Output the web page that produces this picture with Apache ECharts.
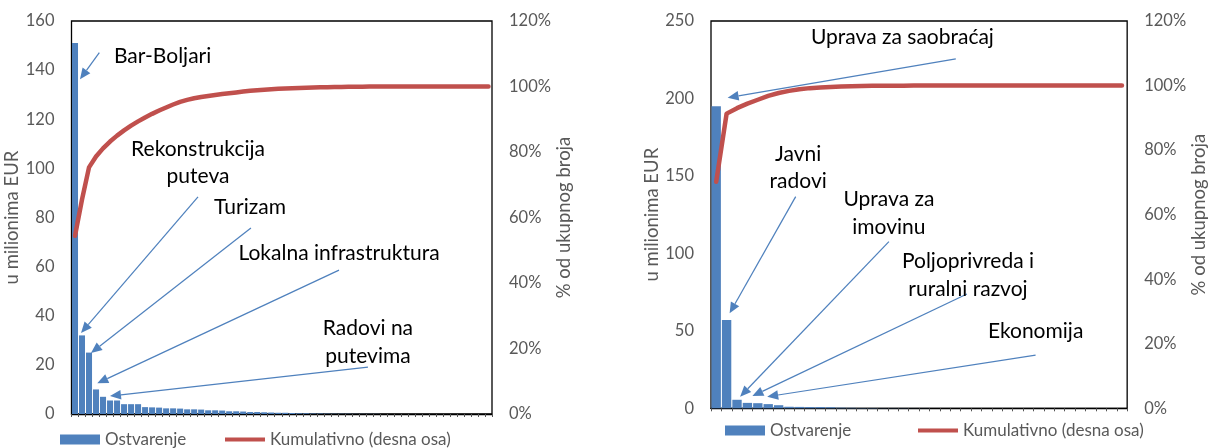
<!DOCTYPE html>
<html>
<head>
<meta charset="utf-8">
<script src="https://cdn.jsdelivr.net/npm/echarts@6/dist/echarts.min.js"></script>
<style>
html,body{margin:0;padding:0;background:#fff;}
#chart{width:1210px;height:448px;}
</style>
</head>
<body>
<div id="chart"></div>
<script>
// ---------- data ----------
const seriesNames = ['Ostvarenje', 'Kumulativno (desna osa)'];

// left chart: realisation per item, in millions of EUR (sorted descending)
const leftValues = [
  151, 32, 25, 10, 7, 5.5, 5.5, 4, 4, 4,
  2.8, 2.7, 2.6, 2.3, 2.3, 2.2, 1.9, 1.9, 1.8, 1.5,
  1.5, 1.4, 1.1, 1.1, 1.0, 0.8, 0.8, 0.7, 0.6, 0.5,
  0.5, 0.4, 0.3, 0.3, 0.2, 0.2, 0.15, 0.1, 0.1, 0.1,
  0.05, 0.05, 0.05, 0.05, 0, 0, 0, 0, 0, 0,
  0, 0, 0, 0, 0, 0, 0, 0, 0, 0
];
// left chart: cumulative share, % (right axis)
const leftCumulative = [
  54.4, 65.5, 75.3, 78.6, 81.1, 83.2, 85.0, 86.6, 88.05, 89.35,
  90.55, 91.65, 92.65, 93.6, 94.5, 95.3, 95.9, 96.4, 96.8, 97.1,
  97.4, 97.7, 97.95, 98.2, 98.45, 98.7, 98.88, 99.04, 99.18, 99.3,
  99.4, 99.49, 99.57, 99.64, 99.7, 99.75, 99.8, 99.84, 99.88, 99.91,
  99.94, 99.96, 99.98, 99.99, 100, 100, 100, 100, 100, 100,
  100, 100, 100, 100, 100, 100, 100, 100, 100, 100
];

// right chart
const rightValues = [
  195, 57, 5.5, 3.5, 3.3, 2.7, 2.0, 1.0, 0.9, 0.8,
  0.8, 0.7, 0.4, 0.3, 0.2, 0.2, 0.1, 0.1, 0.1, 0.05,
  0.05, 0, 0, 0, 0, 0, 0, 0, 0, 0,
  0, 0, 0, 0, 0, 0, 0, 0, 0, 0
];
const rightCumulative = [
  70.2, 91.3, 93, 94.4, 95.6, 96.8, 97.7, 98.35, 98.85, 99.2,
  99.4, 99.58, 99.7, 99.8, 99.86, 99.9, 99.93, 99.95, 99.97, 100,
  100, 100, 100, 100, 100, 100, 100, 100, 100, 100,
  100, 100, 100, 100, 100, 100, 100, 100, 100, 100
];

// categories (items are unlabeled in the original, ranked 1..n)
const leftCategories = leftValues.map((v, i) => String(i + 1));
const rightCategories = rightValues.map((v, i) => String(i + 1));

// tick labels
const leftValueTicks = [0, 20, 40, 60, 80, 100, 120, 140, 160];
const rightValueTicks = [0, 50, 100, 150, 200, 250];
const percentTicks = [0, 20, 40, 60, 80, 100, 120];

// annotation texts
const leftLabels = ['Bar-Boljari', 'Rekonstrukcija\nputeva', 'Turizam', 'Lokalna infrastruktura', 'Radovi na\nputevima'];
const rightLabels = ['Uprava za saobraćaj', 'Javni\nradovi', 'Uprava za\nimovinu', 'Poljoprivreda i\nruralni razvoj', 'Ekonomija'];

// ---------- layout of annotations (in data space: category index, axis value) ----------
const leftAnnotLayout = [
  { at: [12.5, 145.5], from: [3.47, 147.1], to: [0.71, 136.3] },
  { at: [17.55, 102.2], from: [17.55, 88.4], to: [0.86, 33] },
  { at: [24.97, 84.3], from: [25.1, 75.7], to: [2.28, 24.8] },
  { at: [37.67, 65.6], from: [37.67, 58.6], to: [3.18, 12.5] },
  { at: [41.8, 29.3], from: [41.8, 19.1], to: [4.99, 7.3] }
];
const rightAnnotLayout = [
  { at: [17.9, 239.5], from: [23.03, 225.5], to: [1.1, 200.5] },
  { at: [7.88, 155.2], from: [7.64, 136.6], to: [1.29, 61.3] },
  { at: [16.6, 125.8], from: [16.6, 107.6], to: [2.3, 7.5] },
  { at: [24.2, 86], from: [24.1, 73.8], to: [3.48, 7.9] },
  { at: [30.7, 49.5], from: [30.7, 34.4], to: [4.9, 7.5] }
];

// ---------- styles ----------
const FONT = 'Lato, "Open Sans", sans-serif';
const BLUE = '#4F81BD';
const RED = '#C0504D';
const GREY = '#595959';
const linePath = 'path://M0,0 L40,0 L40,4 L0,4 Z';

function ticksAxis(ticks) {
  return { min: ticks[0], max: ticks[ticks.length - 1], interval: ticks[1] - ticks[0] };
}

function valueAxis(gridIndex, ticks, position, name, nameGap, isPct) {
  return Object.assign({
    type: 'value', gridIndex, position,
    name, nameLocation: 'middle', nameRotate: 90, nameGap,
    nameTextStyle: { color: GREY, fontSize: 18.5, fontFamily: FONT },
    axisLine: { show: false }, axisTick: { show: false }, splitLine: { show: false },
    axisLabel: {
      color: GREY, fontSize: 16.5, fontFamily: FONT, margin: 17,
      formatter: isPct ? (v => v + '%') : (v => String(v))
    }
  }, ticksAxis(ticks));
}

function catAxis(gridIndex, cats) {
  return {
    type: 'category', gridIndex, data: cats,
    axisLabel: { show: false },
    axisTick: { show: true, interval: 0, length: 3, lineStyle: { color: '#555' } },
    axisLine: { lineStyle: { color: '#000', width: 1.3 } },
    splitLine: { show: false }
  };
}

function hiddenXAxis(gridIndex, n) {
  return { type: 'value', gridIndex, min: -0.5, max: n - 0.5, show: false };
}

function annotationSeries(labels, layout, xAxisIndex, yAxisIndex) {
  return {
    type: 'custom', xAxisIndex, yAxisIndex, silent: true, z: 6,
    data: layout.map(a => [a.at[0], a.at[1], a.from[0], a.from[1], a.to[0], a.to[1]]),
    encode: { x: [0, 2, 4], y: [1, 3, 5] },
    renderItem(params, api) {
      const t = api.coord([api.value(0), api.value(1)]);
      const p = api.coord([api.value(2), api.value(3)]);
      const q = api.coord([api.value(4), api.value(5)]);
      const ang = Math.atan2(q[1] - p[1], q[0] - p[0]);
      const L = 11, W = 4.8;
      const cx = Math.cos(ang), sy = Math.sin(ang);
      const bx = q[0] - L * cx, by = q[1] - L * sy;
      return {
        type: 'group',
        children: [
          { type: 'line', shape: { x1: p[0], y1: p[1], x2: bx, y2: by },
            style: { stroke: BLUE, lineWidth: 1.25 } },
          { type: 'polygon',
            shape: { points: [[q[0], q[1]], [bx - W * sy, by + W * cx], [bx + W * sy, by - W * cx]] },
            style: { fill: BLUE } },
          { type: 'text', x: t[0], y: t[1],
            style: { text: labels[params.dataIndex], fill: '#000', fontSize: 21, fontFamily: FONT,
              align: 'center', verticalAlign: 'middle', lineHeight: 27.5 } }
        ]
      };
    }
  };
}

function legendItem(left, top, name, isLine) {
  return {
    left, top, padding: 0, itemWidth: 40, itemHeight: 10, itemGap: 0,
    selectedMode: false,
    textStyle: { color: GREY, fontSize: 17, fontFamily: FONT },
    data: [isLine
      ? { name, icon: linePath, itemStyle: { color: RED, borderWidth: 0 } }
      : { name, icon: 'rect', itemStyle: { color: BLUE, borderWidth: 0 } }]
  };
}

const option = {
  animation: false,
  textStyle: { fontFamily: FONT },
  grid: [
    { left: 71.5, top: 21, width: 420.5, height: 393, show: true, borderColor: '#000', borderWidth: 1.3 },
    { left: 711, top: 21, width: 425, height: 387.3, show: true, borderColor: '#000', borderWidth: 1.3 }
  ],
  xAxis: [
    catAxis(0, leftCategories),
    catAxis(1, rightCategories),
    hiddenXAxis(0, leftCategories.length),
    hiddenXAxis(1, rightCategories.length)
  ],
  yAxis: [
    valueAxis(0, leftValueTicks, 'left', 'u milionima EUR', 44, false),
    valueAxis(0, percentTicks, 'right', '% od ukupnog broja', 57, true),
    valueAxis(1, rightValueTicks, 'left', 'u milionima EUR', 44, false),
    valueAxis(1, percentTicks, 'right', '% od ukupnog broja', 51, true)
  ],
  legend: [
    legendItem(60, 431, seriesNames[0], false),
    legendItem(225, 431, seriesNames[1], true),
    legendItem(725, 422, seriesNames[0], false),
    legendItem(918, 422, seriesNames[1], true)
  ],
  series: [
    { name: seriesNames[0], type: 'bar', xAxisIndex: 0, yAxisIndex: 0, data: leftValues,
      barCategoryGap: '14%', itemStyle: { color: BLUE } },
    { name: seriesNames[1], type: 'line', xAxisIndex: 0, yAxisIndex: 1, data: leftCumulative,
      showSymbol: false, smooth: false, z: 4,
      lineStyle: { color: RED, width: 4.5, cap: 'round', join: 'round' }, itemStyle: { color: RED } },
    { name: seriesNames[0], type: 'bar', xAxisIndex: 1, yAxisIndex: 2, data: rightValues,
      barCategoryGap: '10%', itemStyle: { color: BLUE } },
    { name: seriesNames[1], type: 'line', xAxisIndex: 1, yAxisIndex: 3, data: rightCumulative,
      showSymbol: false, smooth: false, z: 4,
      lineStyle: { color: RED, width: 4.5, cap: 'round', join: 'round' }, itemStyle: { color: RED } },
    annotationSeries(leftLabels, leftAnnotLayout, 2, 0),
    annotationSeries(rightLabels, rightAnnotLayout, 3, 2)
  ]
};

const chart = echarts.init(document.getElementById('chart'), null, { renderer: 'canvas' });
chart.setOption(option);
</script>
</body>
</html>
